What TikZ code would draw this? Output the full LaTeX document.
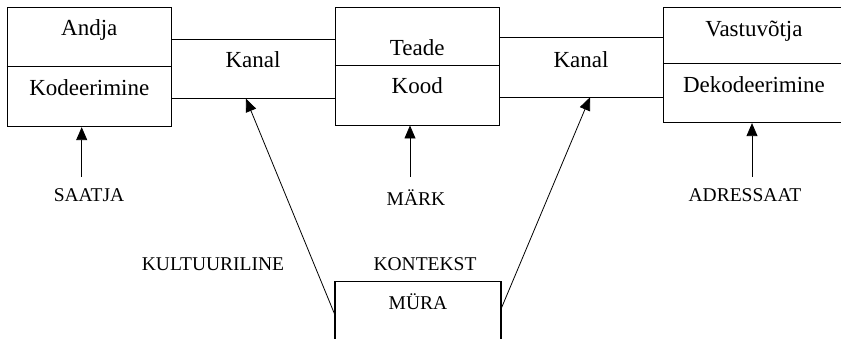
\documentclass[tikz,border=0pt]{standalone}
\usepackage{fontspec}
\setmainfont{Liberation Serif}
\usetikzlibrary{arrows.meta, positioning}

\begin{document}
\begin{tikzpicture}[
  x=1pt, y=-1pt,
  box/.style={draw, line width=0.9pt, inner sep=0pt},
  lbl/.style={font=\fontsize{23}{27}\selectfont, anchor=base, inner sep=0pt},
  caplbl/.style={font=\fontsize{19.5}{23}\selectfont, anchor=base, inner sep=0pt},
  arr/.style={-{Triangle[length=13pt, width=11pt]}, line width=0.8pt}
]
  \useasboundingbox (0,0) rectangle (841,339);
  \clip (0,0) rectangle (841,339);

  % boxes
  \node[box, minimum width=164.7pt, minimum height=119.4pt] (sender) at (89.3,67) {};
  \node[box, minimum width=164.3pt, minimum height=117.7pt] (message) at (417.2,66.2) {};
  \node[box, minimum width=181.8pt, minimum height=115.4pt] (receiver) at (754.2,65) {};
  \node[box, line width=1.4pt, minimum width=166pt, minimum height=63.4pt] (noise) at (418,313.4) {};

  % dividers
  \draw[line width=0.9pt] (sender.west |- 0,66.7) -- (sender.east |- 0,66.7);
  \draw[line width=0.9pt] (message.west |- 0,65.7) -- (message.east |- 0,65.7);
  \draw[line width=0.9pt] (receiver.west |- 0,63.3) -- (receiver.east |- 0,63.3);

  % channels
  \draw[line width=0.9pt] (sender.east |- 0,39) -- (message.west |- 0,39);
  \draw[line width=0.9pt] (sender.east |- 0,98.7) -- (message.west |- 0,98.7);
  \draw[line width=0.9pt] (message.east |- 0,37.3) -- (receiver.west |- 0,37.3);
  \draw[line width=0.9pt] (message.east |- 0,97.3) -- (receiver.west |- 0,97.3);

  % texts
  \node[lbl] (andja) at (89.3,36) {Andja};
  \node[lbl] (kodeer) at (89.3,96) {Kodeerimine};
  \node[lbl] (kanal1) at (253,68) {Kanal};
  \node[lbl] (teade) at (417.2,56) {Teade};
  \node[lbl] (kood) at (417.2,94) {Kood};
  \node[lbl] (kanal2) at (581,68) {Kanal};
  \node[lbl] (vastu) at (754,37) {Vastuvõtja};
  \node[lbl] (dekod) at (754,93) {Dekodeerimine};

  \node[caplbl] (saatja) at (89,202) {SAATJA};
  \node[caplbl] (mark) at (416,206) {MÄRK};
  \node[caplbl] (adressaat) at (745,202) {ADRESSAAT};
  \node[caplbl] (kultuur) at (213,271) {KULTUURILINE};
  \node[caplbl] (kontekst) at (425,271) {KONTEKST};
  \node[caplbl] (mura) at (418,309) {MÜRA};

  % arrows
  \coordinate (s) at (81.7,177);
  \coordinate (m) at (410,177);
  \coordinate (a) at (752,177);
  \coordinate (k1) at (246,98.7);
  \coordinate (k2) at (590,97.3);
  \draw[arr] (s) -- (s |- sender.south);
  \draw[arr] (m) -- (m |- message.south);
  \draw[arr] (a) -- (a |- receiver.south);
  \draw[arr] (noise.west) -- (k1);
  \draw[arr] ([yshift=6pt]noise.east) -- (k2);
\end{tikzpicture}
\end{document}
